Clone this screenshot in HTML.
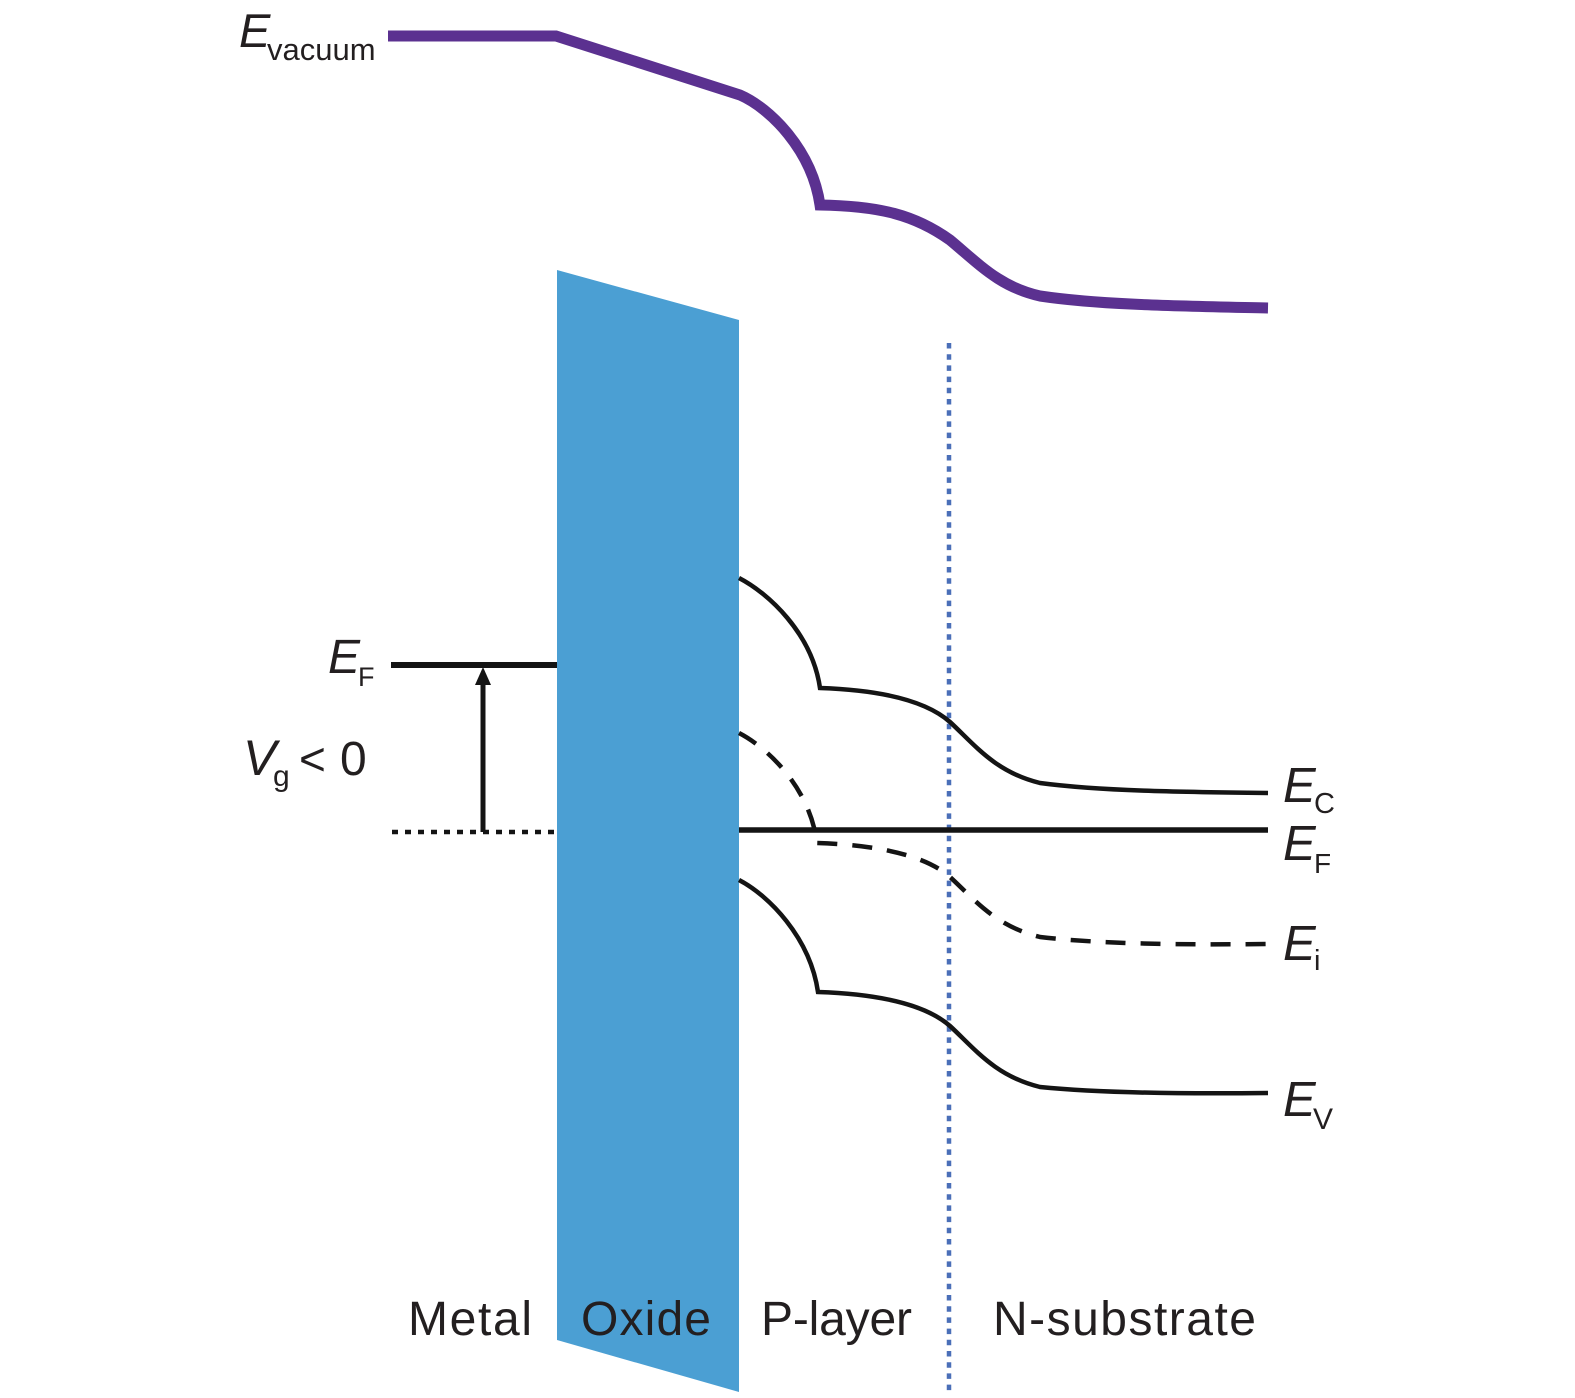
<!DOCTYPE html>
<html>
<head>
<meta charset="utf-8">
<style>
  html,body{margin:0;padding:0;background:#fff;}
  svg{display:block;}
  text{font-family:"Liberation Sans", sans-serif; fill:#231f20;}
  .it{font-style:italic;}
</style>
</head>
<body>
<svg width="1575" height="1398" viewBox="0 0 1575 1398" xmlns="http://www.w3.org/2000/svg">
  <rect width="1575" height="1398" fill="#fff"/>

  <!-- Oxide -->
  <polygon points="557,270 739,320 739,1392 557,1340" fill="#4b9fd3"/>

  <!-- Vacuum level -->
  <path d="M388,36 L556,36 L740,95 C770,108 812,150 820,205 C880,206 915,215 950,240 C980,265 1000,287 1040,296 C1100,305 1180,306 1268,308"
        fill="none" stroke="#5b3190" stroke-width="11" stroke-linejoin="miter"/>

  <!-- Blue dotted boundary -->
  <line x1="949" y1="343" x2="949" y2="1392" stroke="#4a6fb8" stroke-width="4.5" stroke-dasharray="5.5 5.7"/>

  <!-- EC -->
  <path d="M739,578 C768,593 812,633 820,688 C880,690 925,700 950,722 C975,745 995,772 1040,783 C1100,791 1180,792 1268,793"
        fill="none" stroke="#141414" stroke-width="4.5"/>
  <!-- Ei dashed -->
  <path d="M739,733 C768,748 810,788 817,843 C877,845 925,855 950,877 C975,900 995,926 1040,937 C1100,944 1180,945 1268,944"
        fill="none" stroke="#141414" stroke-width="4.5" stroke-dasharray="20 15"/>
  <!-- EV -->
  <path d="M739,880 C768,895 810,937 818,992 C878,994 925,1004 950,1026 C975,1049 995,1076 1040,1087 C1100,1093 1180,1094 1268,1093"
        fill="none" stroke="#141414" stroke-width="4.5"/>
  <!-- EF semiconductor -->
  <line x1="739" y1="830" x2="1268" y2="830" stroke="#141414" stroke-width="5.5"/>

  <!-- Metal EF -->
  <line x1="391" y1="665" x2="557" y2="665" stroke="#141414" stroke-width="6"/>
  <!-- dotted reference -->
  <line x1="392" y1="832" x2="557" y2="832" stroke="#141414" stroke-width="4.5" stroke-dasharray="6 7"/>
  <!-- arrow -->
  <line x1="483" y1="832" x2="483" y2="682" stroke="#141414" stroke-width="5"/>
  <polygon points="483,667 475,685 491,685" fill="#141414"/>

  <!-- Labels -->
  <text class="it" x="239" y="47" font-size="47">E</text>
  <text x="267" y="60" font-size="31">vacuum</text>

  <text class="it" x="328" y="673" font-size="48">E</text>
  <text x="358" y="686" font-size="27">F</text>

  <text class="it" x="243" y="775" font-size="50">V</text>
  <text x="273" y="786" font-size="30">g</text>
  <text x="299" y="775" font-size="46">&lt;</text>
  <text x="340" y="775" font-size="48">0</text>

  <text class="it" x="1283" y="802" font-size="49">E</text>
  <text x="1314" y="813" font-size="29">C</text>

  <text class="it" x="1283" y="860" font-size="49">E</text>
  <text x="1314" y="873" font-size="28">F</text>

  <text class="it" x="1283" y="960" font-size="49">E</text>
  <text x="1314" y="970" font-size="29">i</text>

  <text class="it" x="1283" y="1116" font-size="49">E</text>
  <text x="1313" y="1129" font-size="30">V</text>

  <!-- Region labels -->
  <text x="408" y="1335" font-size="48" textLength="124" lengthAdjust="spacing">Metal</text>
  <text x="581" y="1335" font-size="48" textLength="130" lengthAdjust="spacing">Oxide</text>
  <text x="761" y="1335" font-size="48" textLength="151" lengthAdjust="spacing">P-layer</text>
  <text x="993" y="1335" font-size="48" textLength="263" lengthAdjust="spacing">N-substrate</text>
</svg>
</body>
</html>
